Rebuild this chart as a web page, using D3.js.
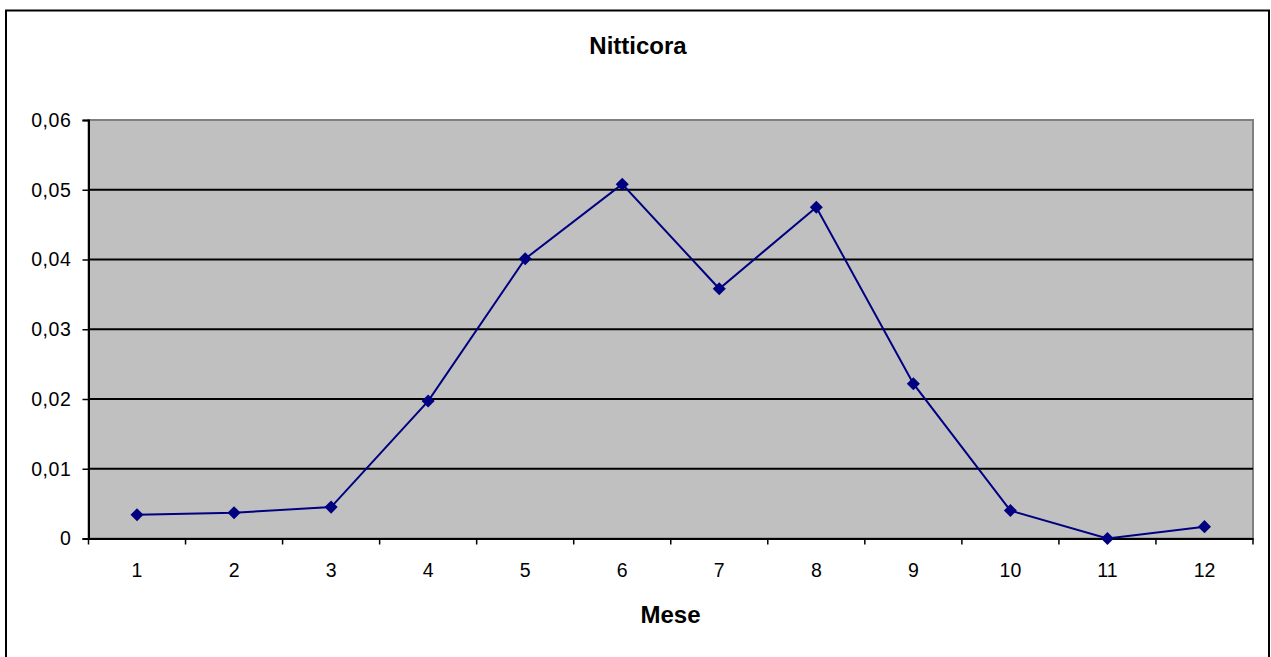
<!DOCTYPE html>
<html><head><meta charset="utf-8">
<script src="https://cdn.jsdelivr.net/npm/d3@7"></script>
<style>body{margin:0;background:#fff;}svg{display:block;}</style>
</head><body>
<script>
const months = [1,2,3,4,5,6,7,8,9,10,11,12];
const values = [0.0034,0.0037,0.0045,0.0197,0.0401,0.0508,0.0358,0.0475,0.0222,0.0040,0.0000,0.0017];
const yTicks = [0,0.01,0.02,0.03,0.04,0.05,0.06];
const title = "Nitticora";
const xTitle = "Mese";

const W=1271,H=657;
const svg=d3.select("body").append("svg").attr("width",W).attr("height",H);
const font="Liberation Sans, Arial, sans-serif";
svg.append("rect").attr("x",6).attr("y",10.5).attr("width",1263).attr("height",660).attr("fill","#fff").attr("stroke","#000").attr("stroke-width",2);

const L=88.5,R=1253,T=120,B=538.5;
const x=d3.scaleBand().domain(months).range([L,R]).padding(0);
const y=d3.scaleLinear().domain([0,0.06]).range([B,T]);

svg.append("rect").attr("x",L).attr("y",T).attr("width",R-L).attr("height",B-T).attr("fill","#c0c0c0").attr("stroke","#808080").attr("stroke-width",2);

const fmt=d=>d===0?"0":d3.format(".2f")(d).replace(".",",");
svg.append("g").selectAll("line").data(yTicks.filter(d=>d>0&&d<0.06)).join("line")
 .attr("x1",L).attr("x2",R).attr("y1",d=>y(d)).attr("y2",d=>y(d)).attr("stroke","#000").attr("stroke-width",2);

const ya=svg.append("g").attr("transform",`translate(${L},0)`).call(d3.axisLeft(y).tickValues(yTicks).tickFormat(fmt).tickSize(6).tickPadding(11));
ya.select(".domain").attr("stroke","#000").attr("stroke-width",2);
ya.selectAll(".tick line").attr("stroke","#000").attr("stroke-width",1.5);
ya.selectAll("text").attr("font-family",font).attr("font-size",19.5).attr("letter-spacing","0.6px").attr("fill","#000");

const xa=svg.append("g").attr("transform",`translate(0,${B})`).call(d3.axisBottom(x).tickSize(0).tickPadding(25));
xa.select(".domain").attr("stroke","#000").attr("stroke-width",2);
xa.selectAll("text").attr("font-family",font).attr("font-size",19.5).attr("fill","#000");
svg.append("g").selectAll("line").data(d3.range(13)).join("line")
 .attr("x1",i=>L+i*x.step()).attr("x2",i=>L+i*x.step()).attr("y1",B).attr("y2",B+6).attr("stroke","#000").attr("stroke-width",1.5);

const cx=d=>x(d)+x.bandwidth()/2;
svg.append("path").datum(months.map((m,i)=>[cx(m),y(values[i])]))
 .attr("d",d3.line()).attr("fill","none").attr("stroke","#000080").attr("stroke-width",2);
svg.append("g").selectAll("path").data(months).join("path")
 .attr("d",d3.symbol(d3.symbolSquare,85)())
 .attr("transform",(m,i)=>`translate(${cx(m)},${y(values[i])}) rotate(45)`).attr("fill","#000080");

svg.append("text").attr("x",638).attr("y",54).attr("text-anchor","middle").attr("font-family",font).attr("font-weight","bold").attr("font-size",24).text(title);
svg.append("text").attr("x",670.5).attr("y",623).attr("text-anchor","middle").attr("font-family",font).attr("font-weight","bold").attr("font-size",24).text(xTitle);
</script>
</body></html>
